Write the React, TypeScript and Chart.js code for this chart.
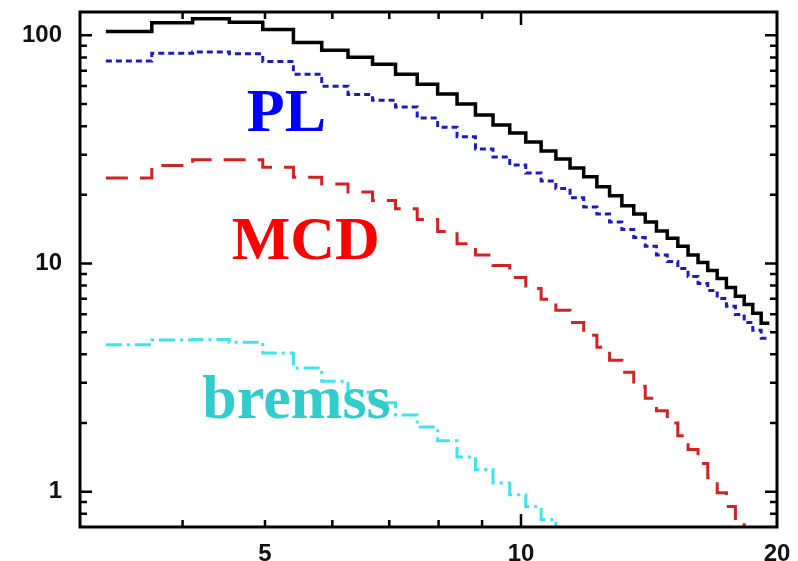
import React, { useEffect, useRef } from 'react';
import { Chart, registerables } from 'chart.js';

Chart.register(...registerables);

// Energy bin edges (keV) shared by all model components
const binEdges = [
  3.25, 3.68, 4.11, 4.54, 4.97, 5.4, 5.83, 6.26, 6.69, 7.12, 7.55, 7.98, 8.41,
  8.84, 9.27, 9.7, 10.13, 10.56, 10.99, 11.42, 11.85, 12.28, 12.71, 13.14,
  13.57, 14.0, 14.43, 14.86, 15.29, 15.72, 16.15, 16.58, 17.01, 17.44, 17.87,
  18.3, 18.73, 19.16, 19.59,
];

// Total model, one value per bin
const totalModel = [
  104, 113.6, 118.3, 114.3, 106.2, 93.1, 86, 80.2, 74.7, 67.6, 61.1, 55.3, 50.0,
  44.8, 40.5, 37.3, 34.1, 31.1, 28.7, 26.2, 24.0, 21.7, 19.8, 17.9, 16.5, 15.2,
  13.9, 12.9, 11.9, 10.9, 10.1, 9.31, 8.6, 7.85, 7.18, 6.62, 6.05, 5.47,
];

// Power-law component
const powerLaw = [
  77.2, 83.4, 84.6, 83.0, 76.9, 67.6, 59.9, 55.0, 52.0, 48.5, 43.4, 39.6, 35.9,
  31.8, 29.3, 27.0, 24.9, 23.0, 21.3, 19.4, 17.7, 16.5, 15.2, 14.1, 13.0, 11.9,
  10.9, 10.2, 9.51, 8.77, 8.18, 7.62, 7.03, 6.49, 5.98, 5.52, 5.1, 4.7,
];

// Multicolour disc component
const diskBlackbody = [
  23.7, 26.9, 28.5, 28.5, 26.4, 23.9, 22.3, 20.6, 18.9, 17.4, 15.6, 13.8, 12.2,
  10.9, 9.8, 8.69, 7.78, 6.97, 6.24, 5.52, 4.85, 4.3, 3.77, 3.34, 2.9, 2.57,
  2.26, 2.0, 1.76, 1.53, 1.33, 1.15, 0.99, 0.86, 0.747, 0.65,
];

// Bremsstrahlung component
const bremsstrahlung = [
  4.4, 4.62, 4.65, 4.52, 4.05, 3.48, 3.05, 2.73, 2.45, 2.17, 1.92, 1.67, 1.42,
  1.25, 1.09, 0.97, 0.86, 0.755, 0.66,
];

// Axis ranges and ticks
const xRange = [3.03, 20];
const yRange = [0.714, 126.6];
const xTickLabels = [5, 10, 20];
const yTickLabels = [1, 10, 100];
const xMajorTicks = [10];
const xMinorTicks = [4, 5, 6, 7, 8, 9];
const yMajorTicks = [1, 10, 100];
const yMinorTicks = [0.8, 0.9, 2, 3, 4, 5, 6, 7, 8, 9, 20, 30, 40, 50, 60, 70, 80, 90];

// Component names, anchored at (energy, flux) of their left baseline
const componentLabels = [
  { text: 'PL', energy: 4.76, flux: 38.1, color: '#0000ff' },
  { text: 'MCD', energy: 4.57, flux: 10.5, color: '#ff0000' },
  { text: 'bremss', energy: 4.22, flux: 2.1, color: '#33cccc' },
];

function toSteps(values: number[]) {
  const pts = values.map((v, i) => ({ x: binEdges[i], y: v }));
  pts.push({ x: binEdges[values.length], y: values[values.length - 1] });
  return pts;
}

const framePlugin = {
  id: 'frameAndLabels',
  afterDatasetsDraw(chart: any) {
    const { ctx, chartArea: a, scales } = chart;
    const xs = scales.x;
    const ys = scales.y;
    ctx.save();
    ctx.strokeStyle = '#000';
    ctx.lineCap = 'butt';

    // inward ticks on all four sides
    ctx.lineWidth = 2.5;
    const xTick = (v: number, len: number) => {
      const px = xs.getPixelForValue(v);
      ctx.beginPath();
      ctx.moveTo(px, a.bottom);
      ctx.lineTo(px, a.bottom - len);
      ctx.moveTo(px, a.top);
      ctx.lineTo(px, a.top + len);
      ctx.stroke();
    };
    const yTick = (v: number, len: number) => {
      const py = ys.getPixelForValue(v);
      ctx.beginPath();
      ctx.moveTo(a.left, py);
      ctx.lineTo(a.left + len, py);
      ctx.moveTo(a.right, py);
      ctx.lineTo(a.right - len, py);
      ctx.stroke();
    };
    xMinorTicks.forEach((v) => xTick(v, 7));
    xMajorTicks.forEach((v) => xTick(v, 13));
    yMinorTicks.forEach((v) => yTick(v, 7));
    yMajorTicks.forEach((v) => yTick(v, 12));

    // frame
    ctx.lineWidth = 3;
    ctx.strokeRect(a.left, a.top, a.right - a.left, a.bottom - a.top);

    // component names
    ctx.font = 'bold 62px "Liberation Serif", "Times New Roman", serif';
    ctx.textAlign = 'left';
    ctx.textBaseline = 'alphabetic';
    componentLabels.forEach((l) => {
      ctx.fillStyle = l.color;
      ctx.fillText(l.text, xs.getPixelForValue(l.energy), ys.getPixelForValue(l.flux));
    });
    ctx.restore();
  },
};

const tickFont = { family: '"Liberation Sans", Arial, sans-serif', size: 24, weight: 'bold' as const };

const clearPadding = (s: any) => {
  s.paddingTop = 0;
  s.paddingBottom = 0;
  s.paddingLeft = 0;
  s.paddingRight = 0;
};

export default function App() {
  const canvasRef = useRef<HTMLCanvasElement | null>(null);

  useEffect(() => {
    const canvas = canvasRef.current;
    if (!canvas) return;
    const line = (data: number[], color: string, width: number, dash: number[]) => ({
      data: toSteps(data),
      borderColor: color,
      borderWidth: width,
      borderDash: dash,
      stepped: 'before' as const,
      pointRadius: 0,
      fill: false,
      tension: 0,
    });
    const chart = new Chart(canvas, {
      type: 'line',
      data: {
        datasets: [
          line(bremsstrahlung, '#3ee4ec', 3, [16, 5, 3, 5]),
          line(diskBlackbody, '#d42222', 3, [22, 12]),
          line(powerLaw, '#1a1ac8', 3, [6, 4]),
          line(totalModel, '#000000', 3.5, []),
        ],
      },
      options: {
        animation: false,
        responsive: true,
        maintainAspectRatio: false,
        layout: { padding: { left: 0, top: 12, right: 21, bottom: 0 } },
        plugins: { legend: { display: false }, tooltip: { enabled: false } },
        scales: {
          x: {
            type: 'logarithmic',
            min: xRange[0],
            max: xRange[1],
            afterBuildTicks: (s: any) => {
              s.ticks = xTickLabels.map((v) => ({ value: v }));
            },
            afterFit: (s: any) => {
              s.height = 34;
              clearPadding(s);
            },
            ticks: {
              callback: (v: any) => String(v),
              font: tickFont,
              color: '#111',
              padding: 13,
              autoSkip: false,
              maxRotation: 0,
            },
            grid: { display: false, drawTicks: false },
            border: { display: false },
          },
          y: {
            type: 'logarithmic',
            min: yRange[0],
            max: yRange[1],
            afterBuildTicks: (s: any) => {
              s.ticks = yTickLabels.map((v) => ({ value: v }));
            },
            afterFit: (s: any) => {
              s.width = 80;
              clearPadding(s);
            },
            ticks: {
              callback: (v: any) => String(v),
              font: tickFont,
              color: '#111',
              padding: 18,
              autoSkip: false,
            },
            grid: { display: false, drawTicks: false },
            border: { display: false },
          },
        },
      },
      plugins: [framePlugin],
    });
    return () => chart.destroy();
  }, []);

  return (
    <div style={{ position: 'fixed', left: 0, top: 0, width: 798, height: 561, background: '#fff' }}>
      <canvas ref={canvasRef} />
    </div>
  );
}
